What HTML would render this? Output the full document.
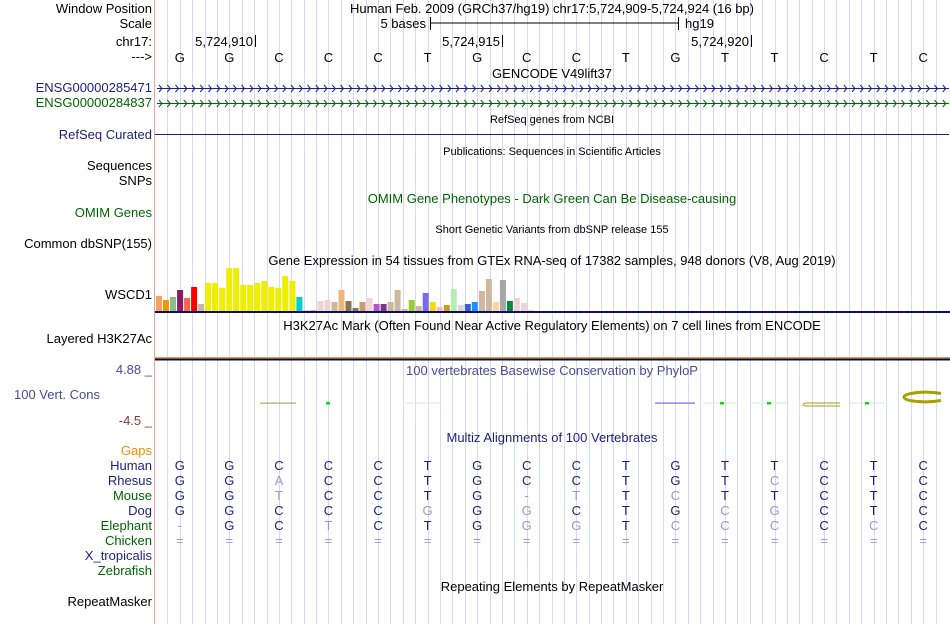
<!DOCTYPE html>
<html><head><meta charset="utf-8"><style>
html,body{margin:0;padding:0;background:#fff;width:950px;height:624px;overflow:hidden}
svg{display:block;font-family:"Liberation Sans",sans-serif}
</style></head><body>
<svg id="s" width="950" height="624" xmlns="http://www.w3.org/2000/svg">
<rect width="950" height="624" fill="#fff"/>
<g id="grid"></g>
<line x1="154.5" y1="0" x2="154.5" y2="624" stroke="#f4a0a0" stroke-width="1"/>
<g font-size="13" fill="#000" text-anchor="end">
<text x="152" y="13">Window Position</text>
<text x="152" y="28">Scale</text>
<text x="152" y="46">chr17:</text>
<text x="152" y="61">---&gt;</text>
<text x="152" y="92" fill="#1e1e80">ENSG00000285471</text>
<text x="152" y="107" fill="#006400">ENSG00000284837</text>
<text x="152" y="139" fill="#1e1e80">RefSeq Curated</text>
<text x="152" y="170">Sequences</text>
<text x="152" y="185">SNPs</text>
<text x="152" y="217" fill="#006400">OMIM Genes</text>
<text x="152" y="248">Common dbSNP(155)</text>
<text x="152" y="299">WSCD1</text>
<text x="152" y="343">Layered H3K27Ac</text>
<text x="152" y="374" fill="#4a4a9a">4.88 _</text>
<text x="100" y="399" fill="#4a4a9a">100 Vert. Cons</text>
<text x="152" y="425" fill="#8b3a3a">-4.5 _</text>
<text x="152" y="455" fill="#f08c00">Gaps</text>
<text x="152" y="470" fill="#1e1e80">Human</text>
<text x="152" y="485" fill="#1e1e80">Rhesus</text>
<text x="152" y="500" fill="#006400">Mouse</text>
<text x="152" y="515" fill="#1e1e80">Dog</text>
<text x="152" y="530" fill="#006400">Elephant</text>
<text x="152" y="545" fill="#006400">Chicken</text>
<text x="152" y="560" fill="#1e1e80">X_tropicalis</text>
<text x="152" y="575" fill="#006400">Zebrafish</text>
<text x="152" y="606">RepeatMasker</text>
</g>
<g font-size="13" fill="#000" text-anchor="middle">
<text x="552" y="13">Human Feb. 2009 (GRCh37/hg19)   chr17:5,724,909-5,724,924 (16 bp)</text>
<text x="552" y="78">GENCODE V49lift37</text>
<text x="552" y="123" font-size="11">RefSeq genes from NCBI</text>
<text x="552" y="155" font-size="11">Publications: Sequences in Scientific Articles</text>
<text x="552" y="203" fill="#006400">OMIM Gene Phenotypes - Dark Green Can Be Disease-causing</text>
<text x="552" y="233" font-size="11">Short Genetic Variants from dbSNP release 155</text>
<text x="552" y="265">Gene Expression in 54 tissues from GTEx RNA-seq of 17382 samples, 948 donors (V8, Aug 2019)</text>
<text x="552" y="330">H3K27Ac Mark (Often Found Near Active Regulatory Elements) on 7 cell lines from ENCODE</text>
<text x="552" y="375" fill="#4a4a9a">100 vertebrates Basewise Conservation by PhyloP</text>
<text x="552" y="442" fill="#1e1e80">Multiz Alignments of 100 Vertebrates</text>
<text x="552" y="591">Repeating Elements by RepeatMasker</text>
</g>
<g font-size="13">
<text x="426" y="28" text-anchor="end">5 bases</text>
<line x1="430" y1="23" x2="678" y2="23" stroke="#000"/>
<line x1="430.5" y1="17" x2="430.5" y2="30" stroke="#000"/>
<line x1="678.5" y1="17" x2="678.5" y2="30" stroke="#000"/>
<text x="685" y="28">hg19</text>
</g>
<g font-size="13">
<text x="253" y="46" text-anchor="end">5,724,910</text><line x1="255.5" y1="35" x2="255.5" y2="47" stroke="#000"/>
<text x="500" y="46" text-anchor="end">5,724,915</text><line x1="502.5" y1="35" x2="502.5" y2="47" stroke="#000"/>
<text x="749" y="46" text-anchor="end">5,724,920</text><line x1="751.5" y1="35" x2="751.5" y2="47" stroke="#000"/>
</g>
<g id="bases" font-size="13" text-anchor="middle"></g>
<g id="genes"></g>
<line x1="155" y1="134.5" x2="949" y2="134.5" stroke="#1e1e80"/>
<g id="gtex"></g>
<rect x="155" y="311" width="795" height="2" fill="#0c0c60"/>
<rect x="155" y="357" width="795" height="1.5" fill="#f0a040"/>
<rect x="155" y="358.5" width="795" height="2" fill="#0c0c40"/>
<g id="phylop"></g>
<g id="multiz" font-size="13" text-anchor="middle"></g>
</svg>
<script>
const NS="http://www.w3.org/2000/svg";
const ref="GGCCCTGCCTGTTCTC";
// lowercase = non-conserved (light colour)
const species=["Human","Rhesus","Mouse","Dog","Elephant","Chicken"];
const alignments=["GGCCCTGCCTGTTCTC","GGaCCTGCCTGTcCTC","GGtCCTG_tTcTTCTC","GGCCCgGgCTGcgCTC","_GCtCTGggTcccCcC","================"];
const gtexValues=[15,11,14,21,13,24,7,28,28,23,43,43,26,26,28,30,24,23,35,30,14,0.5,1,10,11,9,21,10,3,9,13,7,7,9,21,2,11,5,18,9,4,6,22,6,7,9,20,32,9,31,10,13,8,1];
const gtexColors=["#f4a460","#ee9a00","#8fbc8f","#8b1c62","#ee6a50","#ff0000","#cdb79e","#eeee00","#eeee00","#eeee00","#eeee00","#eeee00","#eeee00","#eeee00","#eeee00","#eeee00","#eeee00","#eeee00","#eeee00","#eeee00","#00cdcd","#9ac0cd","#9ac0cd","#eed5d2","#eed5d2","#cdb79e","#edb77a","#8b7355","#8b7355","#cd9b6d","#eed5d2","#b452cd","#7a378b","#cdb79e","#cdb79e","#cdb79e","#9acd32","#cdb79e","#7b68ee","#ffd700","#ffb6c1","#cd9b1d","#b4eeb4","#d9d9d9","#3a5fcd","#1e90ff","#cdb79e","#cdb79e","#ffd39b","#a6a6a6","#008b45","#eed5d2","#eed5d2","#eed5d2"];
const X0=155,X1=948,N=16,bw=(X1-X0)/N;
const xBase=i=>X0+bw*(i+0.5);
const yExp=v=>311-v;
const s=id=>document.getElementById(id);
function el(tag,attrs,parent){const e=document.createElementNS(NS,tag);for(const k in attrs)e.setAttribute(k,attrs[k]);parent.appendChild(e);return e;}
for(let k=1;k<N*4;k++){const x=Math.round(X0+k*bw/4)+0.5;const l=el("line",{x1:x,y1:0,x2:x,y2:624,stroke:"#d8d8f4"},s("grid"));

}
for(let i=0;i<N;i++){const t=el("text",{x:xBase(i),y:62},s("bases"));t.textContent=ref[i];

}
[[88,"#1e1e80"],[103,"#006400"]].forEach(([y,c])=>{
 const g=s("genes");
 const l=el("line",{x1:157,y1:y+0.5,x2:949,y2:y+0.5,stroke:c},g);
 
 
 let d="";for(let x=159;x<948;x+=8.25){d+=`M${x.toFixed(1)},${y-3}L${(x+3).toFixed(1)},${y+0.5}L${x.toFixed(1)},${y+4}`;}
 const p=el("path",{d:d,stroke:c,fill:"none","stroke-width":1},g);
 
 
});
const gw=(535-156)/gtexValues.length;
gtexValues.forEach((v,i)=>{const r=el("rect",{x:(156+i*gw).toFixed(1),y:yExp(v),width:(gw-1).toFixed(1),height:v,fill:gtexColors[i]},s("gtex"));

});
[[260,296,"#b0a860"],[406,442,"#d8f0d8"],[655,695,"#6a6ae0"],[703,737,"#d8f0d8"],[751,787,"#d8f0d8"],[850,884,"#d8f0d8"]].forEach(([a,b,c])=>{
 const r=el("rect",{x:a,y:402.5,width:b-a,height:1.2,fill:c},s("phylop"));
 
 });
[[326,"#00e000"],[720,"#00e000"],[767,"#00e000"],[865,"#00e000"]].forEach(([x,c])=>{
 const r=el("rect",{x:x,y:402,width:4,height:2.5,fill:c},s("phylop"));
 
 });
const e2=el("path",{d:"M840,403 L806,403 Q800,404.5 806,406 L840,406",fill:"none",stroke:"#b8b040","stroke-width":1.3},s("phylop"));


const e1=el("path",{d:"M941,393.5 Q930,391.5 918,392.5 Q904,394 904,397 Q904,400.5 918,401.5 Q930,402.5 941,400.5",fill:"none",stroke:"#a8a000","stroke-width":3},s("phylop"));


alignments.forEach((row,r)=>{for(let i=0;i<N;i++){let ch=row[i];let light=(ch!==ch.toUpperCase())||ch==="_"||ch==="=";
 if(ch==="_")ch="-";
 const t=el("text",{x:xBase(i),y:470+r*15,fill:light?"#9a9ac8":"#1e1e78"},s("multiz"));t.textContent=ch.toUpperCase();
 
 }});
</script>
</body></html>
